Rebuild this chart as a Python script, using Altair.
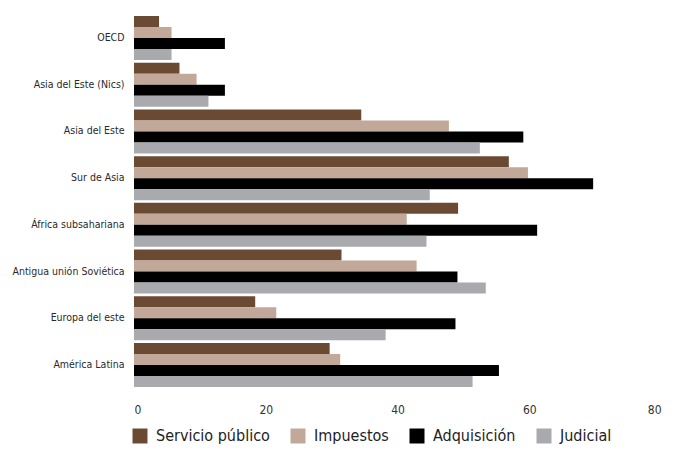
import altair as alt
import pandas as pd

regions = ["OECD", "Asia del Este (Nics)", "Asia del Este", "Sur de Asia",
           "África subsahariana", "Antigua unión Soviética", "Europa del este", "América Latina"]
series = ["Servicio público", "Impuestos", "Adquisición", "Judicial"]
colors = ["#6B4A34", "#C2A898", "#000000", "#A9AAAD"]

servicio = [3.8, 6.9, 34.5, 56.9, 49.2, 31.5, 18.4, 29.7]
impuestos = [5.7, 9.5, 47.8, 59.8, 41.4, 42.9, 21.6, 31.3]
adquisicion = [13.8, 13.8, 59.1, 69.7, 61.2, 49.1, 48.8, 55.4]
judicial = [5.7, 11.3, 52.5, 44.9, 44.4, 53.4, 38.2, 51.4]

rows = []
for s, vals in zip(series, [servicio, impuestos, adquisicion, judicial]):
    for r, v in zip(regions, vals):
        rows.append({"region": r, "serie": s, "valor": v})
df = pd.DataFrame(rows)

FONT = "DejaVu Sans Condensed"

chart = alt.Chart(df).mark_bar().encode(
    y=alt.Y("region:N", sort=regions, title=None,
            scale=alt.Scale(paddingInner=0.058, paddingOuter=0.043),
            axis=alt.Axis(domain=False, ticks=False, labelFont=FONT, labelFontSize=10.5,
                          labelColor="#2a2a2a", labelPadding=10)),
    yOffset=alt.YOffset("serie:N", sort=series),
    x=alt.X("valor:Q", title=None,
            scale=alt.Scale(domain=[0, 80]),
            axis=alt.Axis(values=[0, 20, 40, 60, 80], grid=False, domain=False, ticks=False,
                          labelFont=FONT, labelFontSize=12, labelColor="#333333",
                          labelPadding=15)),
    color=alt.Color("serie:N", sort=series,
                    scale=alt.Scale(domain=series, range=colors),
                    legend=alt.Legend(title=None, orient="none", direction="horizontal",
                                      legendX=-2, legendY=414,
                                      symbolType="square", symbolSize=225,
                                      symbolStrokeWidth=0, symbolOpacity=1,
                                      labelFont=FONT, labelFontSize=16,
                                      labelColor="#222222", columnPadding=20,
                                      labelOffset=8)),
).properties(
    width=527, height=375,
    autosize=alt.AutoSizeParams(type="none"),
    padding={"left": 126, "top": 6, "right": 7, "bottom": 56},
).configure_view(stroke=None)

chart.save("out.html", embed_options={"renderer": "svg", "actions": False})
